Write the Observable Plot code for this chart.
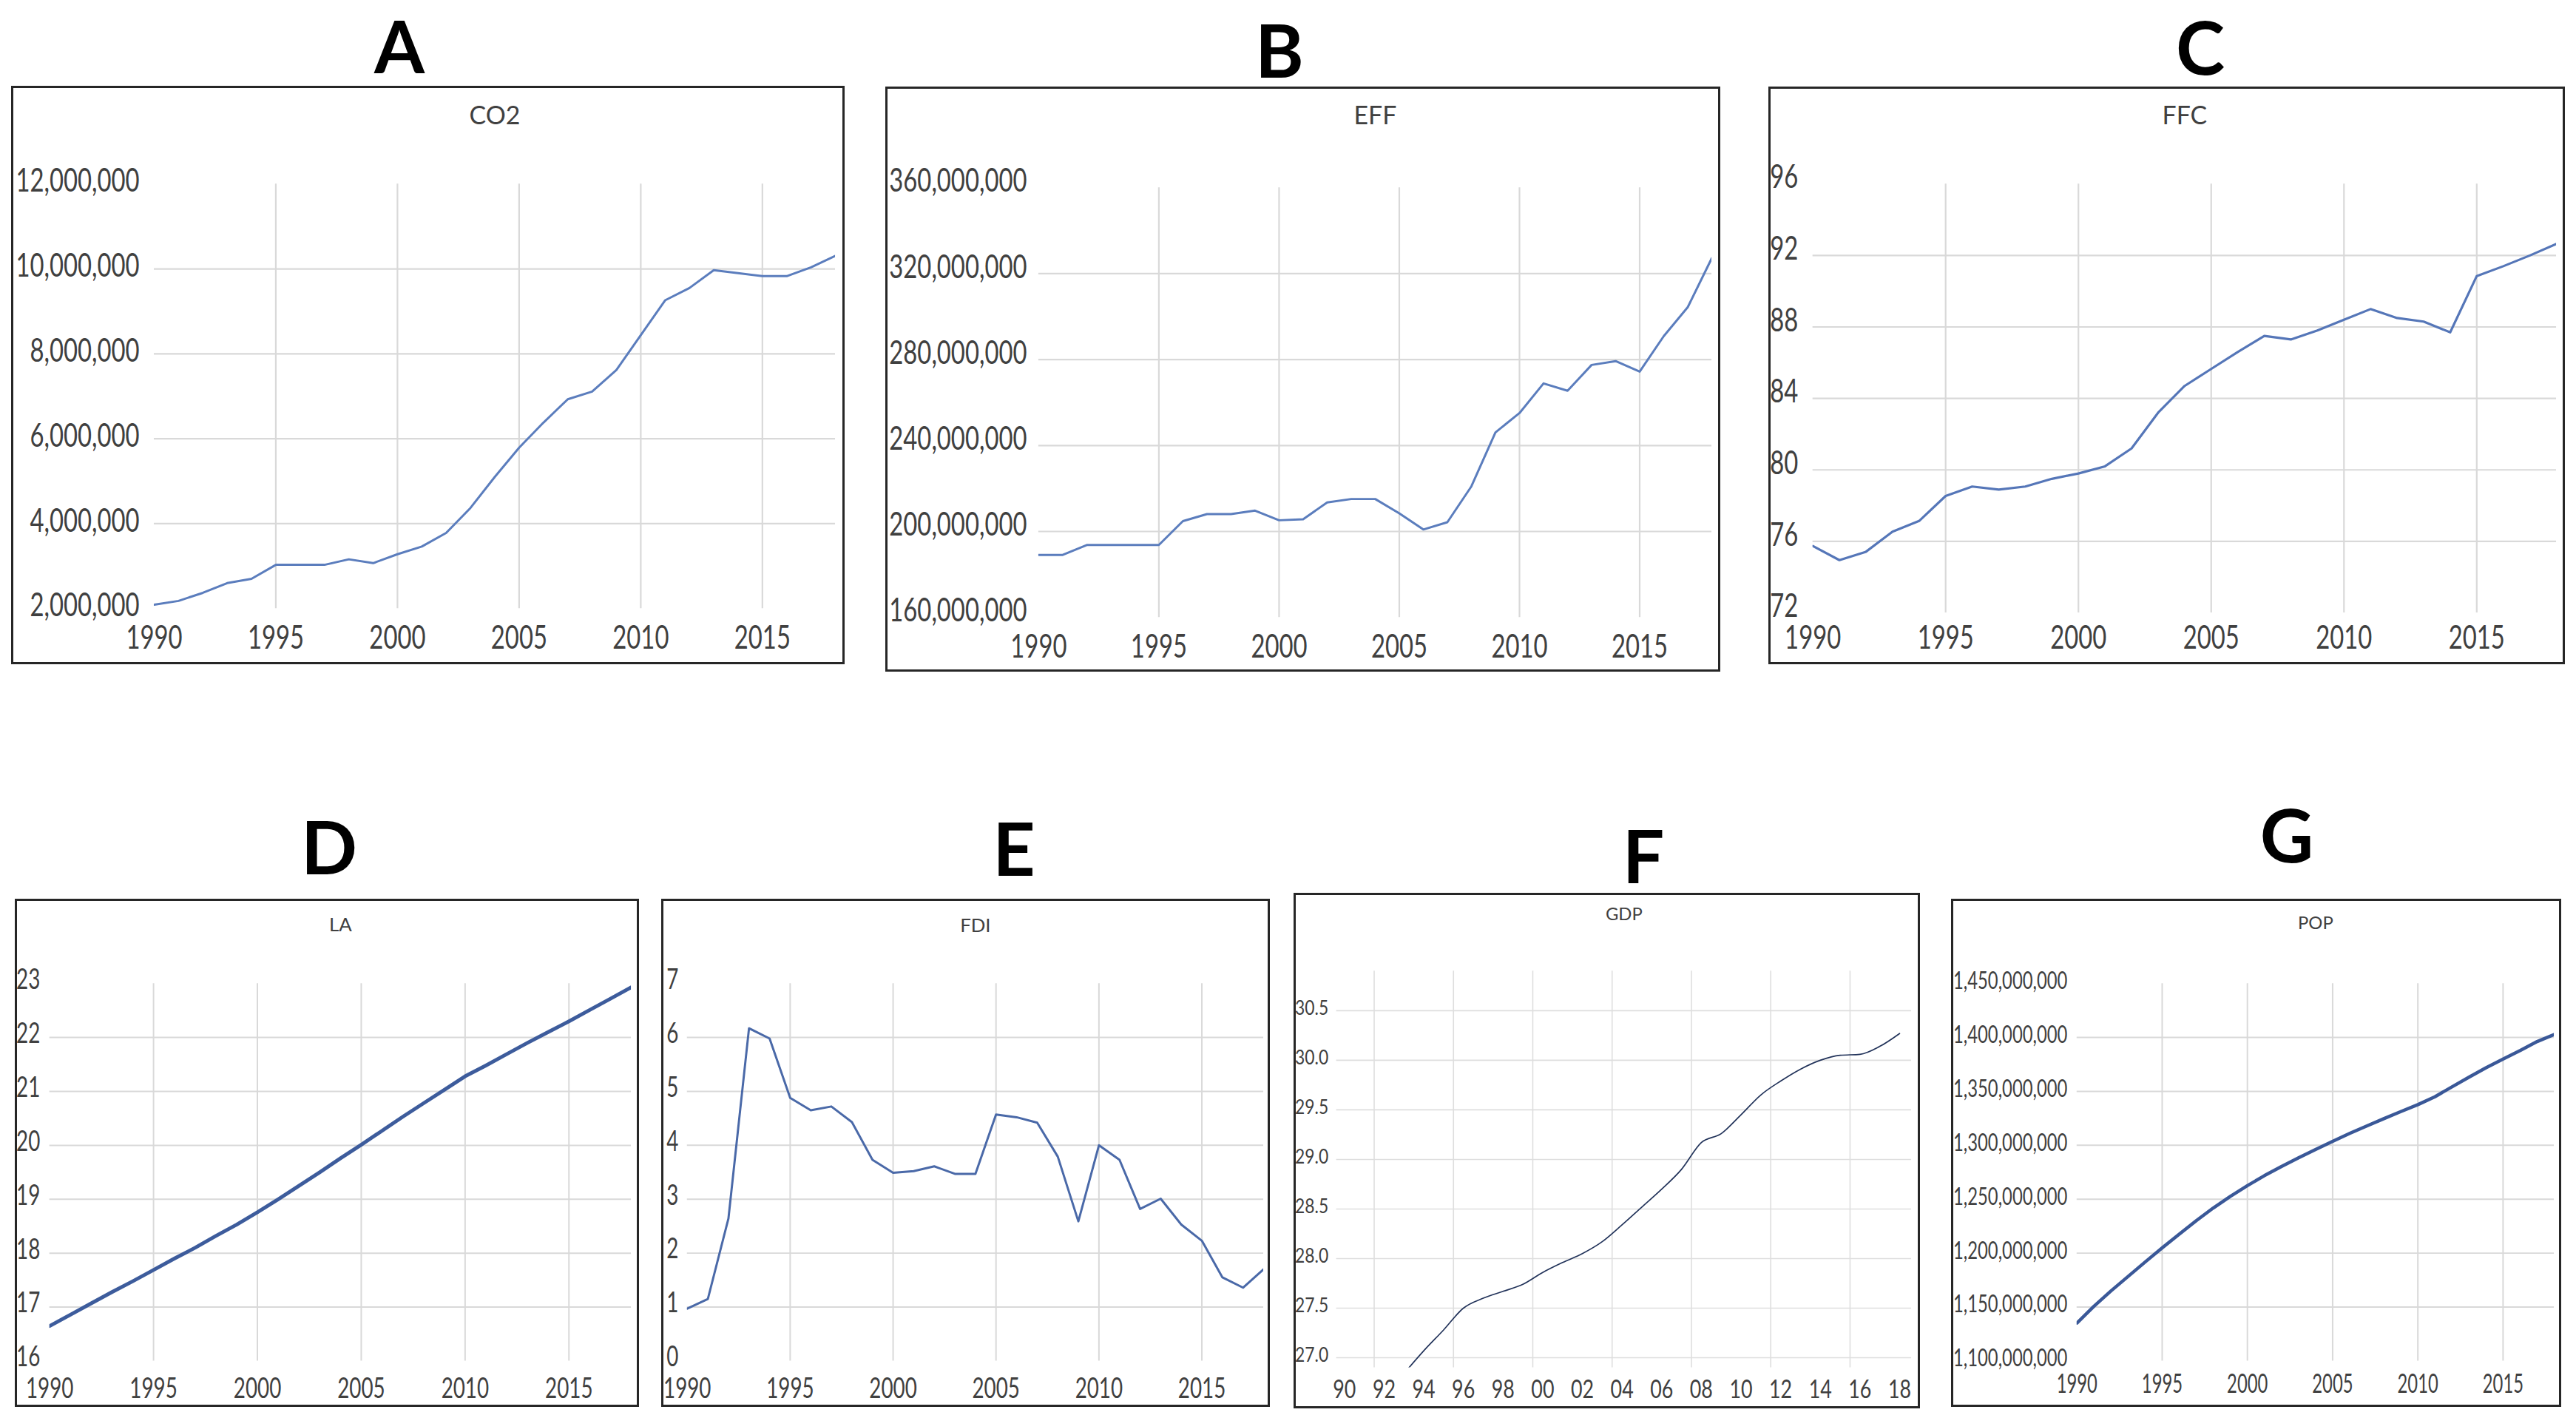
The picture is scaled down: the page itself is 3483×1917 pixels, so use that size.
<!DOCTYPE html>
<html>
<head>
<meta charset="utf-8">
<script src="https://cdn.jsdelivr.net/npm/d3@7"></script>
<script src="https://cdn.jsdelivr.net/npm/@observablehq/plot@0.6"></script>
<style>
html, body { margin: 0; padding: 0; background: #fff; }
#page { position: relative; width: 3483px; height: 1917px; overflow: hidden; background: #fff; }
.panel { position: absolute; box-sizing: border-box; border: 3px solid #262626; background: #fff; }
.panel svg { position: absolute; left: -3px; top: -3px; overflow: visible; }
#letters { position: absolute; left: 0; top: 0; }
</style>
</head>
<body>
<div id="page"></div>
<script>
// ---------------- DATA ----------------
const years = [1990,1991,1992,1993,1994,1995,1996,1997,1998,1999,2000,2001,2002,2003,2004,2005,2006,2007,2008,2009,2010,2011,2012,2013,2014,2015,2016,2017,2018];
const gdpYears = [1993,1994,1995,1996,1997,1998,1999,2000,2001,2002,2003,2004,2005,2006,2007,2008,2009,2010,2011,2012,2013,2014,2015,2016,2017,2018];

const co2 = [2090000,2180000,2370000,2600000,2700000,3030000,3030000,3030000,3160000,3070000,3280000,3460000,3780000,4370000,5100000,5790000,6380000,6930000,7110000,7620000,8440000,9260000,9550000,9970000,9900000,9830000,9830000,10040000,10310000];
const eff = [189.1e6,189.1e6,193.7e6,193.7e6,193.7e6,193.7e6,204.8e6,208.1e6,208.1e6,209.7e6,205.2e6,205.7e6,213.5e6,215.1e6,215.1e6,208.4e6,200.9e6,204.3e6,221.0e6,246.1e6,255.1e6,268.9e6,265.5e6,277.5e6,279.3e6,274.4e6,290.9e6,304.4e6,327.2e6];
const ffc = [75.74,74.95,75.42,76.54,77.14,78.54,79.07,78.9,79.07,79.5,79.8,80.2,81.2,83.2,84.7,85.65,86.6,87.5,87.3,87.8,88.4,89.0,88.5,88.3,87.7,90.85,91.4,92.0,92.65];
const la  = [16.65,16.86,17.07,17.28,17.48,17.69,17.9,18.1,18.32,18.53,18.76,19.0,19.25,19.5,19.76,20.01,20.27,20.53,20.78,21.03,21.28,21.48,21.69,21.9,22.1,22.3,22.51,22.72,22.93];
const fdi = [0.97,1.15,2.64,6.17,5.98,4.88,4.65,4.72,4.43,3.73,3.49,3.52,3.61,3.47,3.47,4.57,4.52,4.42,3.79,2.59,4.0,3.73,2.82,3.01,2.53,2.23,1.55,1.36,1.7];
const gdp = [26.84,27.07,27.28,27.5,27.6,27.67,27.74,27.86,27.96,28.05,28.17,28.34,28.52,28.7,28.9,29.17,29.26,29.45,29.65,29.79,29.91,30.0,30.05,30.06,30.14,30.27];
const pop = [1135.2e6,1150.8e6,1165.0e6,1178.4e6,1191.8e6,1204.9e6,1217.6e6,1230.1e6,1241.9e6,1252.7e6,1262.6e6,1271.9e6,1280.4e6,1288.4e6,1296.1e6,1303.7e6,1311.0e6,1317.9e6,1324.7e6,1331.3e6,1337.7e6,1345.0e6,1354.2e6,1363.2e6,1371.9e6,1379.9e6,1387.8e6,1396.2e6,1402.8e6];

const panelLetters = ["A","B","C","D","E","F","G"];
const panelTitles  = ["CO2","EFF","FFC","LA","FDI","GDP","POP"];

// tick values
const yearTicks = [1990,1995,2000,2005,2010,2015];
const yearGrid  = [1995,2000,2005,2010,2015];
const gdpYearTicks = [1990,1992,1994,1996,1998,2000,2002,2004,2006,2008,2010,2012,2014,2016,2018];
const gdpYearGrid  = [1991.5,1995.5,1999.5,2003.5,2007.5,2011.5,2015.5];
const co2Ticks = [2e6,4e6,6e6,8e6,10e6,12e6];
const effTicks = [160e6,200e6,240e6,280e6,320e6,360e6];
const ffcTicks = [72,76,80,84,88,92,96];
const laTicks  = [16,17,18,19,20,21,22,23];
const fdiTicks = [0,1,2,3,4,5,6,7];
const gdpTicks = [27.0,27.5,28.0,28.5,29.0,29.5,30.0,30.5];
const popTicks = [1100e6,1150e6,1200e6,1250e6,1300e6,1350e6,1400e6,1450e6];

// ---------------- LAYOUT / STYLE ----------------
const comma = d3.format(",");
const yr = d => String(d);
const yr2 = d => String(d % 100).padStart(2, "0");
const fix1 = d3.format(".1f");
const inner = t => t.slice(1, -1);

const panels = [
  { xs: years, ys: co2, box: {l:15, t:116, r:1142, b:898}, plot: {x0:209, x1:1135, yt:249, yb:826},
    xDomain:[1990,2018], yDomain:[2e6,12e6], xTicks: yearTicks, xGrid: yearGrid, yTicks: co2Ticks, yGrid: inner(co2Ticks),
    xFmt: yr, yFmt: comma, xPad: 23, yPad: 20, yShift: -4, titleY: 157,
    font: {x:{size:33,k:1.33}, y:{size:33,k:1.33}, title:{size:34,k:1.5}},
    color: "#5b7dbd", lw: 3, grid: "#d9d9d9", gw: 2.2, curve: "linear" },
  { xs: years, ys: eff, box: {l:1197, t:117, r:2326, b:908}, plot: {x0:1405, x1:2320, yt:254, yb:838},
    xDomain:[1990,2018], yDomain:[160e6,360e6], xTicks: yearTicks, xGrid: yearGrid, yTicks: effTicks, yGrid: inner(effTicks),
    xFmt: yr, yFmt: comma, xPad: 24, yPad: 16, yShift: -9, titleY: 157,
    font: {x:{size:33,k:1.33}, y:{size:33,k:1.33}, title:{size:34,k:1.5}},
    color: "#5b7dbd", lw: 3, grid: "#d9d9d9", gw: 2.2, curve: "linear" },
  { xs: years, ys: ffc, box: {l:2391, t:117, r:3468, b:898}, plot: {x0:2451, x1:3462, yt:249, yb:832},
    xDomain:[1990,2018], yDomain:[72,96], xTicks: yearTicks, xGrid: yearGrid, yTicks: ffcTicks, yGrid: inner(ffcTicks),
    xFmt: yr, yFmt: yr, xPad: 18, yPad: 20, yShift: -9, titleY: 157,
    font: {x:{size:33,k:1.33}, y:{size:33,k:1.33}, title:{size:34,k:1.5}},
    color: "#5576b8", lw: 3.2, grid: "#d9d9d9", gw: 2.2, curve: "linear" },
  { xs: years, ys: la, box: {l:20, t:1215, r:864, b:1902}, plot: {x0:67, x1:859, yt:1330, yb:1844},
    xDomain:[1990,2018], yDomain:[16,23], xTicks: yearTicks, xGrid: yearGrid, yTicks: laTicks, yGrid: inner(laTicks),
    xFmt: yr, yFmt: yr, xPad: 22, yPad: 13, yShift: -6, titleY: 1250,
    font: {x:{size:28,k:1.42}, y:{size:28,k:1.42}, title:{size:26,k:1.6}},
    color: "#3d5c9c", lw: 5, grid: "#d9d9d9", gw: 2, curve: "linear" },
  { xs: years, ys: fdi, box: {l:894, t:1215, r:1717, b:1902}, plot: {x0:929, x1:1714, yt:1330, yb:1844},
    xDomain:[1990,2018], yDomain:[0,7], xTicks: yearTicks, xGrid: yearGrid, yTicks: fdiTicks, yGrid: inner(fdiTicks),
    xFmt: yr, yFmt: yr, xPad: 22, yPad: 12, yShift: -6, titleY: 1252,
    font: {x:{size:28,k:1.42}, y:{size:28,k:1.42}, title:{size:26,k:1.6}},
    color: "#4a69a8", lw: 3, grid: "#d9d9d9", gw: 2, curve: "linear" },
  { xs: gdpYears, ys: gdp, box: {l:1749, t:1207, r:2596, b:1904}, plot: {x0:1807, x1:2590, yt:1313, yb:1853},
    xDomain:[1989.6,2018.6], yDomain:[26.9,30.9], xTicks: gdpYearTicks, xGrid: gdpYearGrid, yTicks: gdpTicks, yGrid: gdpTicks,
    xFmt: yr2, yFmt: fix1, xPad: 17, yPad: 11, yShift: -3, titleY: 1236,
    font: {x:{size:27,k:1.3}, y:{size:23,k:1.15}, title:{size:24,k:1.4}},
    color: "#22335a", lw: 1.7, grid: "#dedede", gw: 1.6, curve: "monotone-x" },
  { xs: years, ys: pop, box: {l:2638, t:1215, r:3463, b:1902}, plot: {x0:2809, x1:3459, yt:1330, yb:1844},
    xDomain:[1990,2018], yDomain:[1100e6,1450e6], xTicks: yearTicks, xGrid: yearGrid, yTicks: popTicks, yGrid: inner(popTicks),
    xFmt: yr, yFmt: comma, xPad: 17, yPad: 13, yShift: -4, titleY: 1248,
    font: {x:{size:24,k:1.5}, y:{size:24,k:1.4}, title:{size:24,k:1.65}},
    color: "#3a5898", lw: 4.5, grid: "#d9d9d9", gw: 2, curve: "linear" }
];

const letterPos = [
  {x:540, y:99, s:98}, {x:1730, y:105, s:100}, {x:2975, y:101, s:100},
  {x:445, y:1182, s:100}, {x:1371, y:1184, s:100}, {x:2222, y:1194, s:100}, {x:3092, y:1166, s:100}
];

// ---------------- RENDER ----------------
const page = document.getElementById("page");

// Stretch tick labels / titles vertically (the reference's text is vertically elongated).
function stretchText(svg, font, yShift) {
  svg.querySelectorAll("text").forEach(t => {
    const g = t.closest("g[aria-label]");
    const lab = g ? g.getAttribute("aria-label") : "";
    let s, mode, shift = 0;
    if (lab === "panel title") { s = font.title; mode = "mid"; }
    else if (lab.startsWith("x-axis")) { s = font.x; mode = "top"; }
    else if (lab.startsWith("y-axis")) { s = font.y; mode = "mid"; shift = yShift; }
    else return;
    t.style.fontSize = s.size + "px";
    let b;
    try { b = t.getBBox(); } catch (e) { return; }
    if (!b || !isFinite(b.y) || b.height === 0) return;
    const ax = b.x + b.width / 2;
    const ay = mode === "top" ? b.y + 0.27 * s.size : b.y + b.height / 2;
    const tr = t.getAttribute("transform") || "";
    t.setAttribute("transform", `${tr} translate(0,${shift}) translate(${ax},${ay}) scale(1,${s.k}) translate(${-ax},${-ay})`.trim());
  });
}

panels.forEach((p, i) => {
  const {box, plot} = p;
  const width = box.r - box.l, height = box.b - box.t;
  const data = p.xs.map((x, j) => ({year: x, value: p.ys[j]}));
  const svg = Plot.plot({
    width, height,
    marginLeft: plot.x0 - box.l,
    marginRight: box.r - plot.x1,
    marginTop: plot.yt - box.t,
    marginBottom: box.b - plot.yb,
    style: {fontFamily: "Lato, 'Open Sans', sans-serif", fontSize: "30px", color: "#404040", background: "transparent", overflow: "visible"},
    x: {domain: p.xDomain, ticks: p.xTicks, tickFormat: p.xFmt, tickSize: 0, tickPadding: p.xPad, label: null},
    y: {domain: p.yDomain, ticks: p.yTicks, tickFormat: p.yFmt, tickSize: 0, tickPadding: p.yPad, label: null},
    marks: [
      Plot.ruleY(p.yGrid, {stroke: p.grid, strokeWidth: p.gw}),
      Plot.ruleX(p.xGrid, {stroke: p.grid, strokeWidth: p.gw}),
      Plot.line(data, {x: "year", y: "value", stroke: p.color, strokeWidth: p.lw, curve: p.curve, clip: true, strokeLinejoin: "round"}),
      Plot.text([panelTitles[i]], {text: d => d, frameAnchor: "top", lineAnchor: "middle", dy: p.titleY - plot.yt,
        fontSize: p.font.title.size, fill: "#404040", ariaLabel: "panel title"})
    ]
  });
  const div = document.createElement("div");
  div.className = "panel";
  div.style.left = box.l + "px";
  div.style.top = box.t + "px";
  div.style.width = width + "px";
  div.style.height = height + "px";
  div.appendChild(svg);
  page.appendChild(div);
  stretchText(svg, p.font, p.yShift);
});

const ls = d3.select(page).append("svg").attr("id", "letters").attr("width", 3483).attr("height", 1917);
ls.selectAll("text").data(panelLetters).join("text")
  .attr("x", (d, i) => letterPos[i].x)
  .attr("y", (d, i) => letterPos[i].y)
  .attr("text-anchor", "middle")
  .attr("font-family", "Lato, 'Open Sans', sans-serif")
  .attr("font-weight", 700)
  .attr("font-size", (d, i) => letterPos[i].s)
  .attr("fill", "#000")
  .text(d => d);
</script>
</body>
</html>
